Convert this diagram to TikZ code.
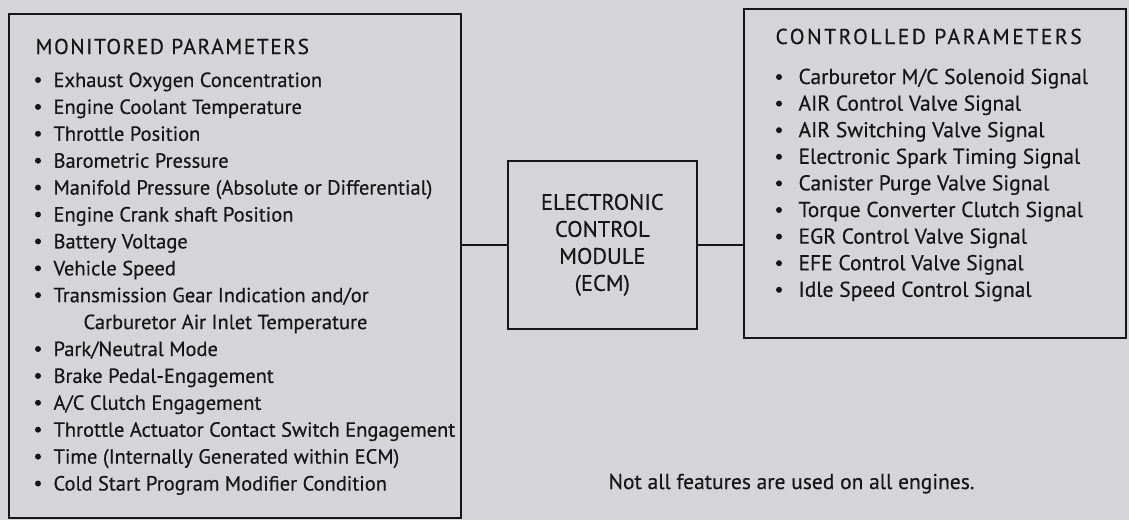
\documentclass[tikz,border=0pt]{standalone}
\usepackage{fontspec}
\setmainfont[FakeBold=0.4]{PT Sans}
\usetikzlibrary{positioning}
\definecolor{paper}{RGB}{213,213,215}
\definecolor{ink}{RGB}{22,22,22}

\begin{document}
\begin{tikzpicture}[x=1pt, y=-1pt, ink,
  panel/.style={draw=ink, line width=1.6pt, fill=paper, inner sep=0pt, anchor=north west},
  head/.style={anchor=base west, font=\fontsize{21.5}{22}\selectfont},
  entry/.style={anchor=base west, font=\fontsize{21.5}{22}\selectfont},
  dot/.style={circle, fill=ink, inner sep=0pt, minimum size=6pt},
  link/.style={line width=1.6pt}]
  \useasboundingbox[fill=paper] (0,0) rectangle (1129,520);

  % the three boxes
  \node[panel, minimum width=452pt, minimum height=504pt] (mon) at (8,13) {};
  \node[panel, minimum width=189pt, minimum height=168pt, align=center,
        font=\fontsize{22.5}{27}\selectfont] (ecm) at (507,160)
        {ELECTRONIC\\CONTROL\\MODULE\\(ECM)};
  \node[panel, minimum width=382pt, minimum height=329pt] (ctl) at (743,8) {};

  \draw[link] (ecm.west -| mon.east) -- (ecm.west);
  \draw[link] (ecm.east) -- (ecm.east -| ctl.west);

  % monitored side
  \node[head] (monhead) at (32,54) {\addfontfeature{LetterSpace=7}MONITORED PARAMETERS};
  \foreach \row/\txt in {0/Exhaust Oxygen Concentration, 1/Engine Coolant Temperature,
      2/Throttle Position, 3/Barometric Pressure,
      4/Manifold Pressure (Absolute or Differential), 5/Engine Crank shaft Position,
      6/Battery Voltage, 7/Vehicle Speed, 8/{Transmission Gear Indication and/or},
      10/{Park/Neutral Mode}, 11/Brake Pedal-Engagement, 12/{A/C Clutch Engagement},
      13/Throttle Actuator Contact Switch Engagement,
      14/Time (Internally Generated within ECM), 15/Cold Start Program Modifier Condition} {
    \node[dot] (mb\row) at (38, {80+26.9*\row}) {};
    \node[entry, font=\fontsize{20.5}{22}\selectfont] (mt\row) at (50, {87+26.9*\row}) {\txt};
  }
  \node[entry, font=\fontsize{20.5}{22}\selectfont] (mt9) at (80, {87+26.9*9})
    {Carburetor Air Inlet Temperature};

  % controlled side
  \node[head] (ctlhead) at (772,44) {\addfontfeature{LetterSpace=12}CONTROLLED PARAMETERS};
  \foreach \row/\txt in {0/{Carburetor M/C Solenoid Signal}, 1/AIR Control Valve Signal,
      2/AIR Switching Valve Signal, 3/Electronic Spark Timing Signal,
      4/Canister Purge Valve Signal, 5/Torque Converter Clutch Signal,
      6/EGR Control Valve Signal, 7/EFE Control Valve Signal, 8/Idle Speed Control Signal} {
    \node[dot] (cb\row) at (779, {77+26.6*\row}) {};
    \node[entry] (ct\row) at (795, {84+26.6*\row}) {\txt};
  }

  \node[entry] (note) at (605,489) {Not all features are used on all engines.};
\end{tikzpicture}
\end{document}
